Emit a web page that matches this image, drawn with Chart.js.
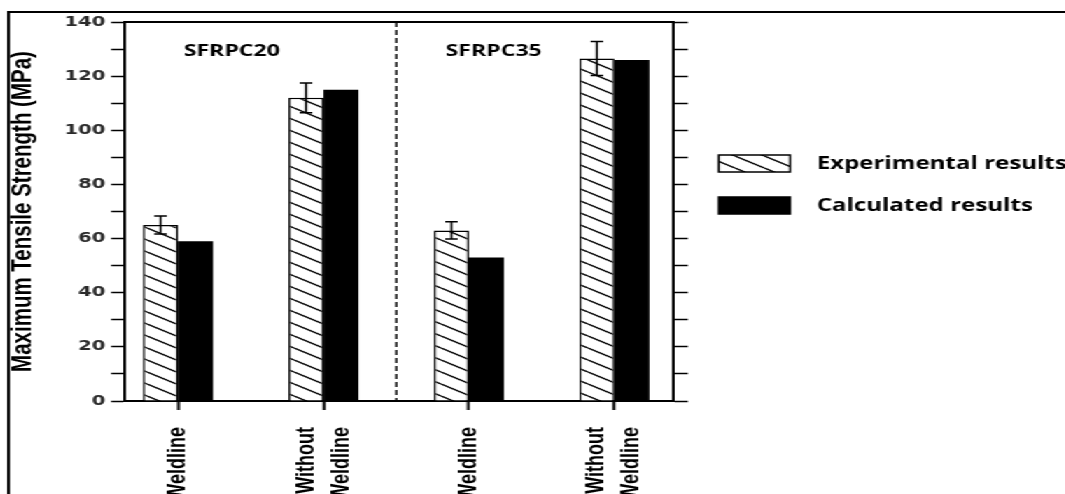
<!DOCTYPE html>
<html>
<head>
<meta charset="utf-8">
<script src="https://cdn.jsdelivr.net/npm/chart.js@4.4.1/dist/chart.umd.min.js"></script>
<style>
html, body { margin: 0; padding: 0; background: #fff; overflow: hidden; }
/* the source figure is stretched sideways, so the whole chart is too */
#wrap { position: absolute; left: 0; top: 0; width: 761px; height: 494px; transform: scaleX(1.4); transform-origin: 0 0; }
#frame { position: absolute; left: 5.2px; top: 11px; right: -20px; bottom: -20px; border-top: 2px solid #000; border-left: 2px solid #000; }
#strengthChart { position: absolute; left: 0; top: 0; }
</style>
</head>
<body>
<div id="wrap">
	<div id="frame"></div>
	<canvas id="strengthChart" width="761" height="494"></canvas>
</div>
<script>
// data
var categories = [['Weldline'], ['Without', 'Weldline'], ['Weldline'], ['Without', 'Weldline']];
var xPos = [1, 2, 3, 4];
var groups = ['SFRPC20', 'SFRPC35'];
var seriesNames = ['Experimental results', 'Calculated results'];
var experimental = [65, 112, 63, 126.5];
var experimentalErr = [3.3, 5.5, 3.2, 6.3];
var calculated = [59, 115, 53, 126];
var yTitle = 'Maximum Tensile Strength (MPa)';

// where the group names and the divider sit, in axis units
var groupAt = [[1.37, 129], [3.17, 129]];
var dividerAt = 2.5;

var chartElement = document.getElementById('strengthChart');
var ctx0 = chartElement.getContext('2d');

function makeHatch() {
	var c = document.createElement('canvas');
	c.width = 21;
	c.height = 12;
	var g = c.getContext('2d');
	g.fillStyle = '#fff';
	g.fillRect(0, 0, 21, 12);
	g.strokeStyle = '#000';
	g.lineWidth = 1.4;
	for (var k = -1; k <= 1; k++) {
		g.beginPath();
		g.moveTo(0, k * 12);
		g.lineTo(21, k * 12 + 12);
		g.stroke();
	}
	return ctx0.createPattern(c, 'repeat');
}
var hatch = makeHatch();

function toPoints(values) {
	return values.map(function (v, i) { return { x: xPos[i], y: v }; });
}

var errorBars = {
	id: 'errorBars',
	afterDatasetsDraw: function (chart) {
		var ctx = chart.ctx;
		var yScale = chart.scales.y;
		var meta = chart.getDatasetMeta(0);
		ctx.save();
		ctx.strokeStyle = '#000';
		ctx.lineWidth = 1.5;
		meta.data.forEach(function (bar, i) {
			var top = yScale.getPixelForValue(experimental[i] + experimentalErr[i]);
			var bottom = yScale.getPixelForValue(experimental[i] - experimentalErr[i]);
			ctx.beginPath();
			ctx.moveTo(bar.x, top);
			ctx.lineTo(bar.x, bottom);
			ctx.moveTo(bar.x - 4.5, top);
			ctx.lineTo(bar.x + 4.5, top);
			ctx.moveTo(bar.x - 4.5, bottom);
			ctx.lineTo(bar.x + 4.5, bottom);
			ctx.stroke();
		});
		// dashed divider between the two materials
		var xd = chart.scales.x.getPixelForValue(dividerAt);
		ctx.setLineDash([5, 3]);
		ctx.lineWidth = 1.5;
		ctx.beginPath();
		ctx.moveTo(xd, chart.chartArea.top);
		ctx.lineTo(xd, chart.chartArea.bottom);
		ctx.stroke();
		ctx.restore();
	}
};

// rotated category names, lines centred on each tick
var categoryNames = {
	id: 'categoryNames',
	afterDraw: function (chart) {
		var ctx = chart.ctx;
		var xScale = chart.scales.x;
		ctx.save();
		ctx.fillStyle = '#000';
		ctx.font = 'bold 18px "Liberation Sans"';
		ctx.textAlign = 'right';
		ctx.textBaseline = 'middle';
		categories.forEach(function (lines, i) {
			ctx.save();
			ctx.translate(xScale.getPixelForValue(xPos[i]), xScale.top + 26);
			ctx.rotate(-Math.PI / 2);
			lines.forEach(function (line, j) {
				ctx.fillText(line, 0, (j - (lines.length - 1) / 2) * 25);
			});
			ctx.restore();
		});
		ctx.restore();
	}
};

var groupNames = {
	id: 'groupNames',
	afterDraw: function (chart) {
		var ctx = chart.ctx;
		ctx.save();
		ctx.fillStyle = '#000';
		ctx.font = 'bold 16.5px "Open Sans"';
		ctx.textAlign = 'center';
		ctx.textBaseline = 'middle';
		groups.forEach(function (name, i) {
			ctx.fillText(name, chart.scales.x.getPixelForValue(groupAt[i][0]), chart.scales.y.getPixelForValue(groupAt[i][1]));
		});
		ctx.restore();
	}
};

var sideLegend = {
	id: 'sideLegend',
	afterDraw: function (chart) {
		var ctx = chart.ctx;
		var left = chart.chartArea.right + 32;
		chart.data.datasets.forEach(function (ds, i) {
			var top = 155 + i * 42;
			ctx.save();
			ctx.fillStyle = ds.backgroundColor;
			ctx.fillRect(left, top, 51, 17);
			ctx.strokeStyle = '#000';
			ctx.lineWidth = 1.5;
			ctx.strokeRect(left, top, 51, 17);
			ctx.fillStyle = '#000';
			ctx.font = 'bold 17.2px "Open Sans"';
			ctx.textBaseline = 'middle';
			ctx.fillText(ds.label, left + 70, top + 9);
			ctx.restore();
		});
	}
};

var strengthChart = new Chart(chartElement, {
	type: 'bar',
	data: {
		datasets: [
		{
			label: seriesNames[0],
			data: toPoints(experimental),
			backgroundColor: hatch,
			borderColor: '#000',
			borderWidth: 1.5
		},
		{
			label: seriesNames[1],
			data: toPoints(calculated),
			backgroundColor: '#000',
			borderWidth: 0
		}
		]
	},
	options: {
		responsive: false,
		animation: false,
		datasets: {
			bar: { categoryPercentage: 0.481, barPercentage: 1 }
		},
		layout: { padding: { top: 22, left: 0, right: 0, bottom: 0 } },
		plugins: {
			legend: { display: false },
			tooltip: { enabled: false }
		},
		scales: {
			x: {
				type: 'linear',
				min: 0.636,
				max: 4.409,
				offset: false,
				afterBuildTicks: function (s) { s.ticks = xPos.map(function (v) { return { value: v }; }); },
				afterFit: function (s) { s.height = 93; },
				grid: { drawOnChartArea: false, offset: false, tickLength: 9, tickWidth: 2, tickColor: '#000' },
				border: { color: '#000', width: 2 },
				ticks: { display: false }
			},
			xTop: {
				type: 'linear',
				position: 'top',
				min: 0,
				max: 1,
				grid: { display: false },
				ticks: { display: false },
				border: { color: '#000', width: 2 },
				afterFit: function (s) { s.height = 0; }
			},
			y: {
				position: 'left',
				min: 0,
				max: 140,
				afterFit: function (s) { s.width = 89.3; },
				grid: { drawOnChartArea: false, tickLength: 10, tickWidth: 1.5, tickColor: '#000' },
				border: { color: '#000', width: 2 },
				ticks: {
					stepSize: 10,
					maxTicksLimit: 20,
					padding: 4,
					color: '#2a2a2a',
					font: { family: 'DejaVu Sans', weight: 'bold', size: 14 },
					callback: function (v) { return v % 20 === 0 ? v : ''; }
				},
				title: {
					display: true,
					text: yTitle,
					color: '#000',
					padding: { top: 4, bottom: 0 },
					font: { family: 'Liberation Sans', weight: 'bold', size: 20.5 }
				}
			},
			yRight: {
				position: 'right',
				min: 0,
				max: 140,
				afterFit: function (s) { s.width = 279.6; },
				grid: { drawOnChartArea: false, tickLength: 10, tickWidth: 1.5, tickColor: '#000' },
				border: { color: '#000', width: 2 },
				ticks: { stepSize: 10, maxTicksLimit: 20, display: false }
			}
		}
	},
	plugins: [errorBars, categoryNames, groupNames, sideLegend]
});

window.strengthChart = strengthChart;
</script>
</body>
</html>
